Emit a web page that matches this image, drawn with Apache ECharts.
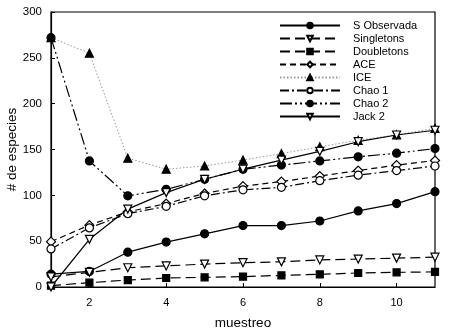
<!DOCTYPE html>
<html>
<head>
<meta charset="utf-8">
<script src="https://cdn.jsdelivr.net/npm/echarts@6/dist/echarts.min.js"></script>
<style>
  html, body { margin: 0; padding: 0; background: #fff; }
  #chart { width: 450px; height: 331px; }
</style>
</head>
<body>
<div id="chart"></div>
<script>
const muestreo = ['1', '2', '3', '4', '5', '6', '7', '8', '9', '10', '11'];
const yTicks = [0, 50, 100, 150, 200, 250, 300];

const sObservada = [14, 17, 38, 49, 58, 67, 67, 72, 83, 91, 104];
const singletons = [11, 16, 21, 23, 25, 26.5, 27.5, 29.5, 30.5, 31.5, 32.5];
const doubletons = [1.5, 4.7, 7.6, 9.8, 10.5, 11.3, 12.7, 13.8, 15.3, 16, 16.5];
const ace = [49.5, 67.5, 82, 91, 102, 110, 115, 121, 127, 133, 138];
const ice = [272, 255, 140.5, 128.5, 132, 138.5, 145.5, 153, 160, 166, 173];
const chao1 = [41.5, 64.5, 80, 88, 99.5, 106, 108.7, 116, 122, 127, 132];
const chao2 = [272, 137.5, 99.5, 106.5, 117.5, 128.5, 133, 137.5, 142, 146, 151];
const jack2 = [0, 52, 85, 103, 117.5, 128.5, 138.5, 148, 158.5, 165.8, 171];

const chart = echarts.init(document.getElementById('chart'));

function mk(name, data, dash, symbol, filled, extra) {
  return Object.assign({
    name: name,
    type: 'line',
    data: data,
    symbol: symbol,
    symbolSize: 8,
    lineStyle: { color: '#000', width: 1.2, type: dash },
    itemStyle: {
      color: filled ? '#000' : '#fff',
      borderColor: '#000',
      borderWidth: 1.2
    },
    emphasis: { disabled: true },
    z: 3
  }, extra || {});
}

const option = {
  animation: false,
  backgroundColor: '#fff',
  textStyle: { fontFamily: 'Liberation Sans, Arial, sans-serif' },
  grid: {
    left: 51,
    right: 15,
    top: 12,
    bottom: 44,
    containLabel: false,
    outerBoundsMode: 'none',
    show: true,
    borderColor: '#000',
    borderWidth: 1.2
  },
  legend: {
    orient: 'vertical',
    left: 274,
    top: 15,
    itemWidth: 60,
    itemHeight: 7,
    itemGap: 2,
    textStyle: { fontSize: 11, color: '#000', padding: [0, 0, 0, 8] },
    data: ['S Observada', 'Singletons', 'Doubletons', 'ACE', 'ICE', 'Chao 1', 'Chao 2', 'Jack 2']
  },
  xAxis: {
    type: 'category',
    data: muestreo,
    boundaryGap: false,
    name: 'muestreo',
    nameLocation: 'middle',
    nameMoveOverlap: false,
    nameGap: 29,
    nameTextStyle: { fontSize: 13.5, color: '#000' },
    axisLine: { lineStyle: { color: '#000', width: 1.2 } },
    axisTick: {
      inside: true,
      length: 4,
      interval: (i, v) => Number(v) % 2 === 0,
      lineStyle: { color: '#000' }
    },
    axisLabel: {
      interval: (i, v) => Number(v) % 2 === 0,
      color: '#000',
      fontSize: 11,
      margin: 10
    },
    splitLine: { show: false }
  },
  yAxis: {
    type: 'value',
    min: yTicks[0],
    max: yTicks[yTicks.length - 1],
    interval: 50,
    name: '# de especies',
    nameLocation: 'middle',
    nameMoveOverlap: false,
    nameGap: 32,
    nameTextStyle: { fontSize: 13.5, color: '#000' },
    axisLine: { show: true, lineStyle: { color: '#000', width: 1.2 } },
    axisTick: { show: true, inside: true, length: 4, lineStyle: { color: '#000' } },
    axisLabel: { color: '#000', fontSize: 11.5, margin: 9 },
    splitLine: { show: false }
  },
  series: [
    mk('S Observada', sObservada, 'solid', 'circle', true),
    mk('Singletons', singletons, [10, 5], 'triangle', false, { symbolRotate: 180 }),
    mk('Doubletons', doubletons, [10, 5], 'rect', true, { symbolSize: 7 }),
    mk('ACE', ace, [6, 4], 'diamond', false, { symbolSize: 9 }),
    mk('ICE', ice, [1.5, 2], 'triangle', true, {
      lineStyle: { color: '#999', width: 1, type: [1.5, 2] }
    }),
    mk('Chao 1', chao1, [9, 3, 2, 3], 'circle', false),
    mk('Chao 2', chao2, [12, 3, 2, 3, 2, 3], 'circle', true),
    mk('Jack 2', jack2, 'solid', 'triangle', false, { symbolRotate: 180 })
  ]
};

chart.setOption(option);
</script>
</body>
</html>
